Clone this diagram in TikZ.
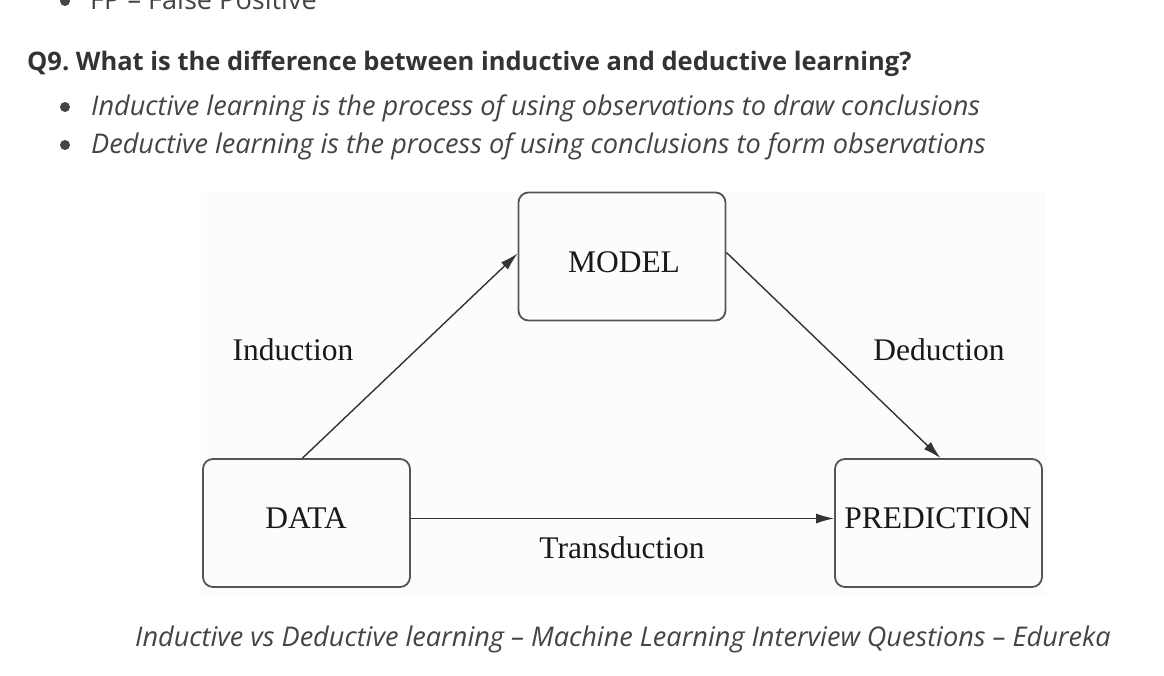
\documentclass[tikz,border=0pt]{standalone}
\usepackage{fontspec}
\setmainfont{Open Sans}
\newfontfamily\diafont{Liberation Serif}
\usetikzlibrary{arrows.meta,calc}
\definecolor{webtext}{HTML}{444444}
\definecolor{headtext}{HTML}{333333}
\definecolor{diabg}{HTML}{FCFCFC}
\definecolor{boxline}{HTML}{555555}
\definecolor{arrline}{HTML}{333333}
\frenchspacing
\tikzset{
  webline/.style={anchor=base west, inner sep=0pt, text=webtext, font=\fontsize{27.1}{30}\selectfont\itshape},
  headline/.style={anchor=base west, inner sep=0pt, text=headtext, font=\fontsize{25.5}{30}\selectfont\bfseries},
  bulletdot/.style={circle, fill=webtext, inner sep=0pt, minimum size=10pt},
  diabox/.style={draw=boxline, line width=1.8pt, rounded corners=10pt, minimum width=207pt, minimum height=128pt, inner sep=0pt},
  diatext/.style={inner sep=0pt, text=black!90, font=\diafont\fontsize{31.5}{35}\selectfont},
  conn/.style={draw=arrline, line width=1.4pt, -{Latex[length=18pt,width=10pt]}},
}
\begin{document}
\begin{tikzpicture}[x=1pt,y=-1pt]
\useasboundingbox (0,0) rectangle (1164,676);
\fill[white] (0,0) rectangle (1164,676);
% top cut-off line
\node[bulletdot] (b0) at (65,1) {};
\node[webline, font=\fontsize{27.1}{30}\selectfont] (fp) at (90,10) {FP – False Positive};
% heading
\node[headline] (q9) at (27,71) {Q9. What is the difference between inductive and deductive learning?};
% bullets
\node[bulletdot] (b1) at (65,107) {};
\node[webline] (l1) at (91,116) {Inductive learning is the process of using observations to draw conclusions};
\node[bulletdot] (b2) at (65,145) {};
\node[webline] (l2) at (91,154) {Deductive learning is the process of using conclusions to form observations};
% diagram background
\fill[diabg] (201,192) rectangle (1046,596);
% boxes
\node[diabox] (model) at (622,256.5) {};
\node[diabox] (data) at (306.5,523) {};
\node[diabox] (pred) at (938.5,523) {};
\node[diatext] (tmodel) at (624,262) {MODEL};
\node[diatext] (tdata) at (306,518) {DATA};
\node[diatext] (tpred) at (938,518) {PREDICTION};
% connectors
\draw[conn] ($(data.north)+(-4,0)$) -- ($(model.west)+(0,-3)$);
\draw[conn] ($(model.east)+(0,-4)$) -- ($(pred.north)+(2,0)$);
\draw[conn] ($(data.east)+(0,-4.5)$) -- ($(pred.west)+(0,-4.5)$);
% labels
\node[diatext] (lind) at (293,350) {Induction};
\node[diatext] (lded) at (939,350) {Deduction};
\node[diatext] (ltra) at (622,548) {Transduction};
% caption
\node[webline] (cap) at (135,646) {Inductive vs Deductive learning – Machine Learning Interview Questions – Edureka};
\end{tikzpicture}
\end{document}
